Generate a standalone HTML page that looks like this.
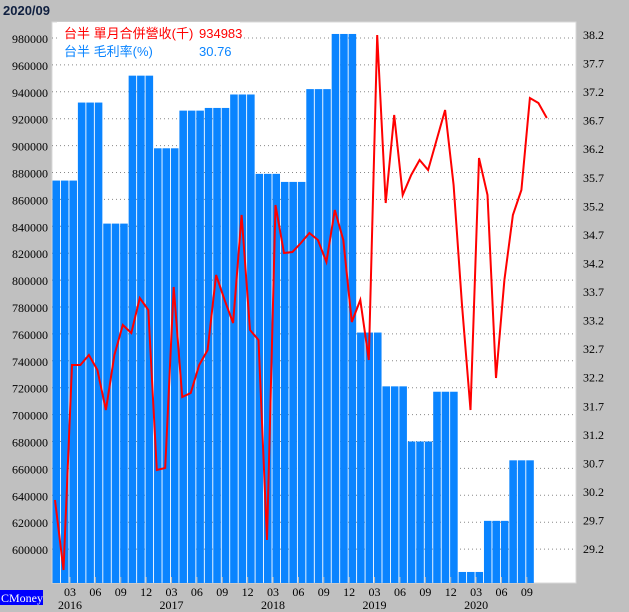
<!DOCTYPE html>
<html><head><meta charset="utf-8"><style>
body{margin:0;background:#c0c0c0;}
svg{display:block;font-family:"Liberation Serif","Noto Serif CJK SC",serif;}
</style></head><body>
<svg width="629" height="612" xmlns="http://www.w3.org/2000/svg">
<rect width="629" height="612" fill="#c0c0c0"/>
<text x="3" y="15" font-family="Liberation Sans, sans-serif" font-weight="bold" font-size="13" fill="#102040">2020/09</text>
<rect x="52" y="22" width="524" height="561" fill="#fff" stroke="#d8d8d8"/>
<g id="grid" stroke="#888" stroke-dasharray="1,3" stroke-width="1"></g>
<g id="bars" fill="#0a84ff"></g>
<g id="lbl" font-size="12" fill="#000"></g>
<polyline id="ln" fill="none" stroke="#f00" stroke-width="2"/>
<rect x="57" y="22" width="183" height="40" fill="#fff"/>
<text x="64" y="38" font-size="13" fill="#f00" font-family="Liberation Sans,'Noto Sans CJK TC',sans-serif">台半 單月合併營收(千)</text>
<text x="199" y="38" font-size="13" fill="#f00" font-family="Liberation Sans,sans-serif">934983</text>
<text x="64" y="56" font-size="13" fill="#0a84ff" font-family="Liberation Sans,'Noto Sans CJK TC',sans-serif">台半 毛利率(%)</text>
<text x="199" y="56" font-size="13" fill="#0a84ff" font-family="Liberation Sans,sans-serif">30.76</text>
<rect x="0" y="590" width="43" height="15" fill="#0000ff"/>
<text x="1" y="602" font-size="12" fill="#fff">CMoney</text>
</svg>
<script>
const NS="http://www.w3.org/2000/svg";
function el(p,t,a,tx){const e=document.createElementNS(NS,t);for(const k in a)e.setAttribute(k,a[k]);if(tx)e.textContent=tx;document.getElementById(p).appendChild(e);}
const Y=v=>38+(980000-v)/20000*26.9;
for(let k=0;k<20;k++){const y=38+26.9*k;el('grid','line',{x1:52,x2:576,y1:y,y2:y});el('lbl','text',{x:48,y:y+5,'text-anchor':'end'},String(980000-20000*k));}
for(let k=0;k<19;k++){const y=35+28.56*k;el('lbl','text',{x:583,y:y+4},(38.2-0.5*k).toFixed(1));}
const q=[874000,932000,842000,952000,898000,926000,928000,938000,879000,873000,942000,983000,761000,721000,680000,717000,583000,621000,666000];
const S=8.46;
for(let i=0;i<57;i++){const v=q[Math.floor(i/3)];const x=52+S*i+0.5;el('bars','rect',{x:x,y:Y(v),width:S-0.9,height:583-Y(v)});}
const ys=[500,570,365,365,355,370,410,355,325,333,298,310,470,468,287,397,393,365,350,275,300,323,215,330,340,540,205,253,252,243,233,240,262,210,240,322,300,360,35,203,115,195,175,160,170,140,110,185,305,410,158,195,378,280,215,190,98,103,118];
document.getElementById('ln').setAttribute('points',ys.map((y,i)=>(55+8.48*i).toFixed(1)+','+y).join(' '));
const ml=['03','06','09','12'];
for(let k=0;k<19;k++){const x=70+S*3*k;el('lbl','line',{x1:x,x2:x,y1:577,y2:589,stroke:'#bbb'});el('lbl','text',{x:x,y:596,'text-anchor':'middle'},ml[k%4]);
if(k%4==0)el('lbl','text',{x:x,y:609,'text-anchor':'middle'},String(2016+k/4));}
</script>
</body></html>
